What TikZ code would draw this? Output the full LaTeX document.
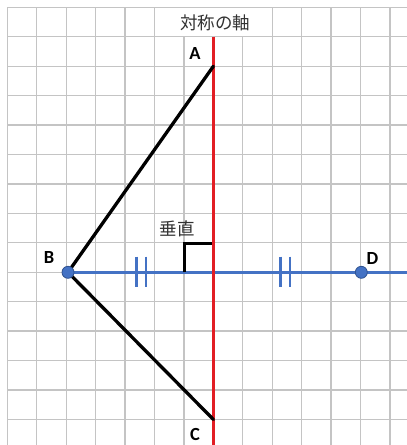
\documentclass[tikz,border=0pt]{standalone}
\usepackage{fontspec}
\setmainfont{Carlito}
\newfontfamily\jpfont{Noto Sans CJK JP}
\definecolor{gridgray}{RGB}{196,196,196}
\definecolor{axisred}{RGB}{226,30,36}
\definecolor{lineblue}{RGB}{68,114,196}
\definecolor{darkblue}{RGB}{47,82,143}
\definecolor{titlegray}{RGB}{50,50,50}
\tikzset{
  gridline/.style={draw=gridgray, line width=1.3pt},
  axisline/.style={draw=axisred, line width=3pt},
  segline/.style={draw=black, line width=3.3pt},
  bluelin/.style={draw=lineblue, line width=3pt},
  tickline/.style={draw=lineblue, line width=2.6pt},
  anglemark/.style={draw=black, line width=2.8pt},
  ptlabel/.style={font=\fontsize{18.5}{20}\selectfont\bfseries, text=black, inner sep=0pt},
  jplabel/.style={font=\jpfont\fontsize{17.5}{20}\selectfont, text=titlegray, inner sep=0pt},
  dot/.style={circle, fill=lineblue, draw=darkblue, line width=0.8pt, minimum size=12pt, inner sep=0pt}
}
\begin{document}
\begin{tikzpicture}[x=1pt,y=-1pt]
\useasboundingbox (0,0) rectangle (407,445);
\fill[white] (0,0) rectangle (407,445);
% grid
\foreach \k in {0,...,13} \draw[gridline] ({7.3+\k*29.44},7.3) -- ({7.3+\k*29.44},445);
\foreach \k in {0,...,14} \draw[gridline] (7.3,{7.3+\k*29.44}) -- (407,{7.3+\k*29.44});
% title cell
\fill[white] (155.3,8) rectangle (271.6,36.1);
\node[jplabel] (title) at (215,22.7) {対称の軸};
% coordinates
\coordinate (A) at (213.4,66.2);
\coordinate (C) at (213.4,419.5);
\coordinate (Rtop) at (213.4,36.7);
\coordinate (Rbot) at (213.4,445);
\coordinate (Bp) at (68,272.3);
\coordinate (Dp) at (361.3,272.3);
\coordinate (Bend) at (407,272.3);
\coordinate (Q1) at (184.5,272.3);
\coordinate (Q2) at (184.5,243.5);
\coordinate (Q3) at (213.4,243.5);
% blue line
\draw[bluelin] (Bp) -- (Bend);
% ticks
\coordinate (t1a) at (136.5,256.5); \coordinate (t1b) at (136.5,287);
\coordinate (t2a) at (146,256.5); \coordinate (t2b) at (146,287);
\coordinate (t3a) at (280.5,256.5); \coordinate (t3b) at (280.5,287);
\coordinate (t4a) at (290,256.5); \coordinate (t4b) at (290,287);
\draw[tickline] (t1a) -- (t1b);
\draw[tickline] (t2a) -- (t2b);
\draw[tickline] (t3a) -- (t3b);
\draw[tickline] (t4a) -- (t4b);
% right angle
\draw[anglemark] (Q1) -- (Q2) -- (Q3);
% red axis
\draw[axisline] (Rtop) -- (Rbot);
% triangle sides
\draw[segline, line cap=round] (A) -- (Bp) -- (C);
% points
\node[dot] (B) at (Bp) {};
\node[dot] (D) at (Dp) {};
% labels
\node[ptlabel] (la) at (195,53.7) {A};
\node[ptlabel] (lb) at (49,257.5) {B};
\node[ptlabel] (lc) at (195,434) {C};
\node[ptlabel] (ld) at (372.5,258) {D};
\node[jplabel] (perp) at (177,229) {垂直};
\end{tikzpicture}
\end{document}
